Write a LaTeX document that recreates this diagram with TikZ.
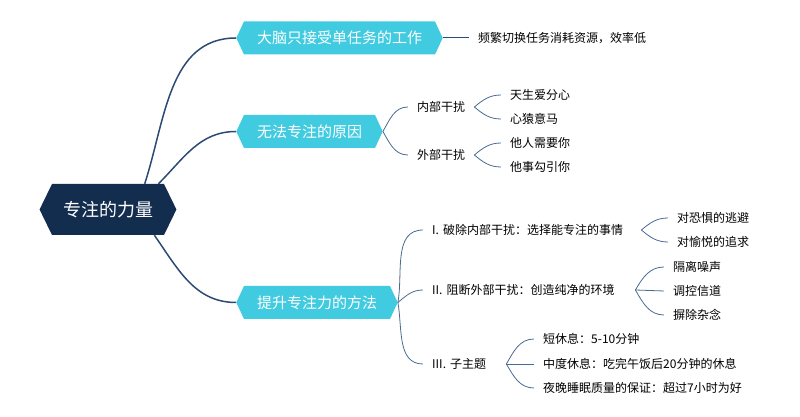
\documentclass[tikz,border=0pt]{standalone}
\usepackage{fontspec}
\setmainfont{Noto Sans CJK SC}
\usetikzlibrary{shapes.symbols}

\definecolor{rootnavy}{HTML}{132D4F}
\definecolor{topiccyan}{HTML}{41CBE0}
\definecolor{mainlinecol}{HTML}{2B4A74}
\definecolor{sublinecol}{HTML}{4A6A90}

\tikzset{
  rootbox/.style={signal, signal to=west and east, signal pointer angle=128,
    fill=rootnavy, text=white, font=\fontsize{18}{20}\selectfont,
    minimum height=51pt, inner xsep=11pt},
  topicbox/.style={signal, signal to=west and east, signal pointer angle=130,
    fill=topiccyan, text=white, font=\fontsize{15}{17}\selectfont,
    minimum height=33pt, inner xsep=13pt},
  leaf/.style={anchor=west, inner xsep=9pt, inner ysep=2pt,
    font=\fontsize{12}{14}\selectfont},
  mainline/.style={draw=mainlinecol, line width=1.5pt},
  subline/.style={draw=sublinecol, line width=0.8pt},
}

\begin{document}
\begin{tikzpicture}[x=1pt, y=1pt]
    \useasboundingbox (0,0) rectangle (800,417);

    % centre and main topics
    \node[rootbox] (root) at (108,207.5) {专注的力量};
    \node[topicbox] (brain) at (339.5,379) {大脑只接受单任务的工作};
    \node[topicbox] (cause) at (309.5,285.5) {无法专注的原因};
    \node[topicbox] (method) at (317,114.5) {提升专注力的方法};

    \draw[mainline] (root.35) to[out=72,in=180] (brain.west);
    \draw[mainline] (root.27) to[out=45,in=180] (cause.west);
    \draw[mainline] (root.-29) to[out=-55,in=180] (method.west);

    % first topic
    \node[leaf] (cost) at (469,379) {频繁切换任务消耗资源，效率低};
    \draw[mainline, line width=1pt] (brain.east) -- (cost.west);

    % second topic
    \node[leaf] (inner) at (408,310) {内部干扰};
    \node[leaf] (outer) at (408,262) {外部干扰};
    \node[leaf] (born) at (501,322) {天生爱分心};
    \node[leaf] (monkey) at (501,298) {心猿意马};
    \node[leaf] (needed) at (501,274) {他人需要你};
    \node[leaf] (lured) at (501,250) {他事勾引你};

    \draw[subline] (cause.east) to[out=60,in=180] (inner.west);
    \draw[subline] (cause.east) to[out=-60,in=180] (outer.west);
    \draw[subline] (inner.east) to[out=40,in=180] (born.west);
    \draw[subline] (inner.east) to[out=-40,in=180] (monkey.west);
    \draw[subline] (outer.east) to[out=40,in=180] (needed.west);
    \draw[subline] (outer.east) to[out=-40,in=180] (lured.west);

    % third topic
    \node[leaf, text width=200pt, align=left] (stepa) at (423,187) {I. 破除内部干扰：选择能专注的事情};
    \node[leaf, text width=194pt, align=left] (stepb) at (423,127) {II. 阻断外部干扰：创造纯净的环境};
    \node[leaf, text width=65pt, align=left] (stepc) at (423,53) {III. 子主题};

    \draw[subline] (method.east) to[out=80,in=180] (stepa.west);
    \draw[subline] (method.east) to[out=40,in=180] (stepb.west);
    \draw[subline] (method.east) to[out=-80,in=180] (stepc.west);

    \node[leaf] (fear) at (668,199) {对恐惧的逃避};
    \node[leaf] (joy) at (668,175) {对愉悦的追求};
    \draw[subline] (stepa.east) to[out=40,in=180] (fear.west);
    \draw[subline] (stepa.east) to[out=-40,in=180] (joy.west);

    \node[leaf] (noise) at (664,150) {隔离噪声};
    \node[leaf] (channel) at (664,126) {调控信道};
    \node[leaf] (clutter) at (664,102) {摒除杂念};
    \draw[subline] (stepb.east) to[out=60,in=180] (noise.west);
    \draw[subline] (stepb.east) -- (channel.west);
    \draw[subline] (stepb.east) to[out=-60,in=180] (clutter.west);

    \node[leaf] (short) at (534,78) {短休息：5-10分钟};
    \node[leaf] (medium) at (534,53) {中度休息：吃完午饭后20分钟的休息};
    \node[leaf] (night) at (534,29) {夜晚睡眠质量的保证：超过7小时为好};
    \draw[subline] (stepc.east) to[out=60,in=180] (short.west);
    \draw[subline] (stepc.east) -- (medium.west);
    \draw[subline] (stepc.east) to[out=-60,in=180] (night.west);
\end{tikzpicture}
\end{document}
